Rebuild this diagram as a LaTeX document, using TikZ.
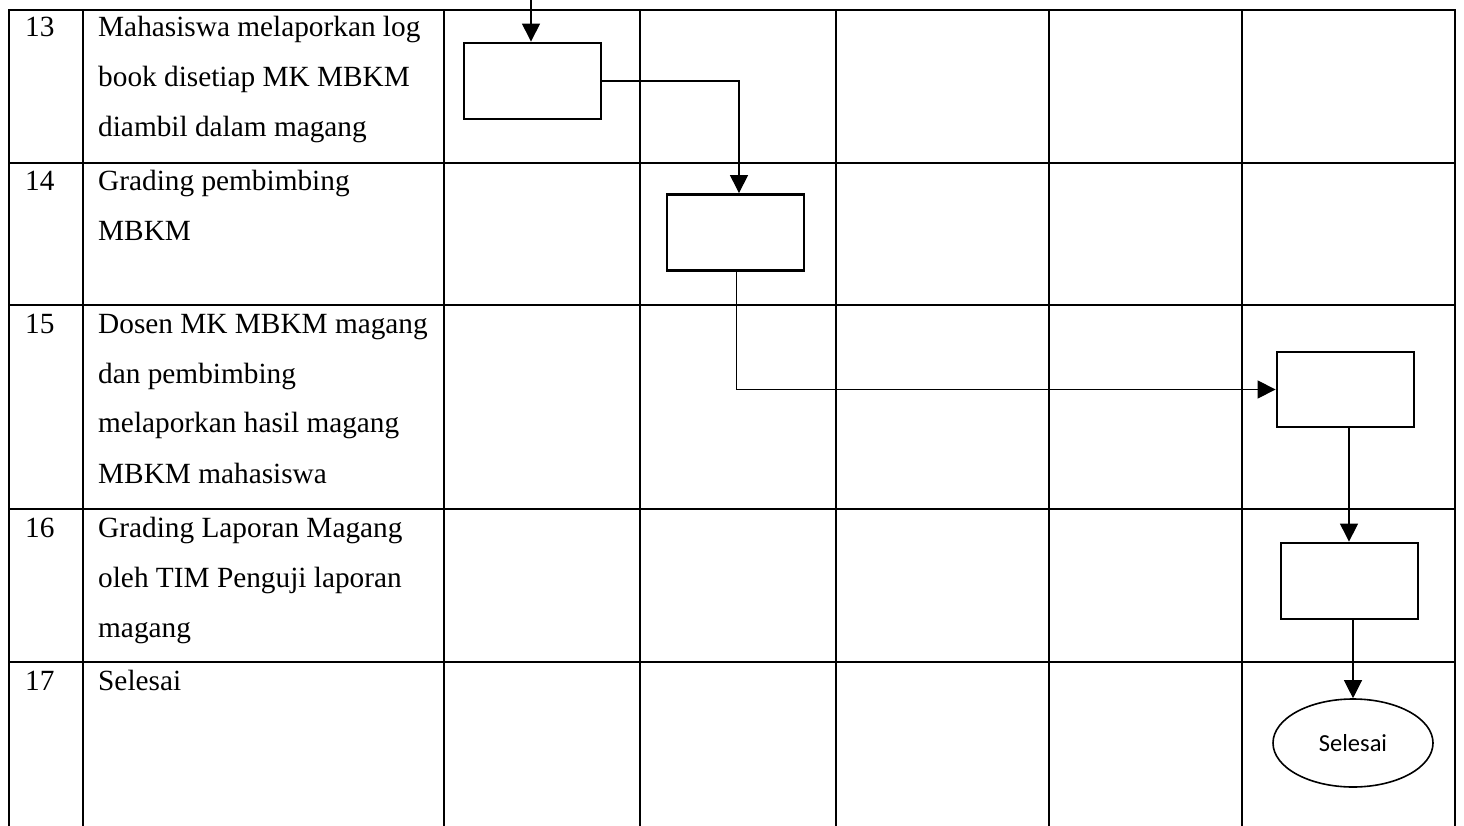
\documentclass[tikz,border=0pt]{standalone}
\usepackage{fontspec}
\setmainfont{Liberation Serif}
\newfontfamily\calibrifont{Carlito}
\usetikzlibrary{shapes.geometric,arrows.meta}
\begin{document}
\begin{tikzpicture}[x=1pt,y=-1pt,
  gridline/.style={line width=2pt,line cap=rect},
  procbox/.style={draw,line width=2.8pt,minimum width=137pt,minimum height=76pt,inner sep=0pt},
  endoval/.style={draw,ellipse,line width=1.6pt,minimum width=160pt,minimum height=88pt,inner sep=0pt,font=\calibrifont\fontsize{24.5}{28}\selectfont},
  conn/.style={line width=1.1pt,-{Triangle[length=18pt,width=18pt]}},
  celltext/.style={anchor=base west,inner sep=0pt,font=\fontsize{29.3}{50}\selectfont}]
\useasboundingbox (0,0) rectangle (1464,826);
% table grid
\foreach \yy in {10,163,305,509,662}
  \draw[gridline] (9,\yy) -- (1455,\yy);
\foreach \xx in {9,83,444,640,836,1049,1242,1455}
  \draw[gridline] (\xx,10) -- (\xx,826);
% row texts
\node[celltext] (n13) at (25,37) {13};
\node[celltext] (t13) at (98,37) {\parbox[t]{340pt}{Mahasiswa melaporkan log\\book disetiap MK MBKM\\diambil dalam magang}};
\node[celltext] (n14) at (25,191) {14};
\node[celltext] (t14) at (98,191) {\parbox[t]{340pt}{Grading pembimbing\\MBKM}};
\node[celltext] (n15) at (25,333) {15};
\node[celltext] (t15) at (98,333) {\parbox[t]{340pt}{Dosen MK MBKM magang\\dan pembimbing\\melaporkan hasil magang\\MBKM mahasiswa}};
\node[celltext] (n16) at (25,537) {16};
\node[celltext] (t16) at (98,537) {\parbox[t]{340pt}{Grading Laporan Magang\\oleh TIM Penguji laporan\\magang}};
\node[celltext] (n17) at (25,690) {17};
\node[celltext] (t17) at (98,690) {Selesai};
% flow shapes
\node[procbox] (b1) at (532.5,81) {};
\node[procbox] (b2) at (735.5,232.5) {};
\node[procbox,minimum height=75pt] (b3) at (1345.5,389.5) {};
\node[procbox] (b4) at (1349.5,581) {};
\node[endoval] (e5) at (1353,743) {Selesai};
% connectors
\coordinate (top) at (531,0);
\draw[conn] (top) -- (top |- b1.north);
\draw[conn] (b1.east) -| ([xshift=3.5pt]b2.north);
\draw[conn] ([xshift=1pt]b2.south) |- (b3.west);
\draw[conn] ([xshift=3.5pt]b3.south) -- ([xshift=3.5pt]b3.south |- b4.north);
\draw[conn] ([xshift=3.5pt]b4.south) -- (e5.north);
\end{tikzpicture}
\end{document}
